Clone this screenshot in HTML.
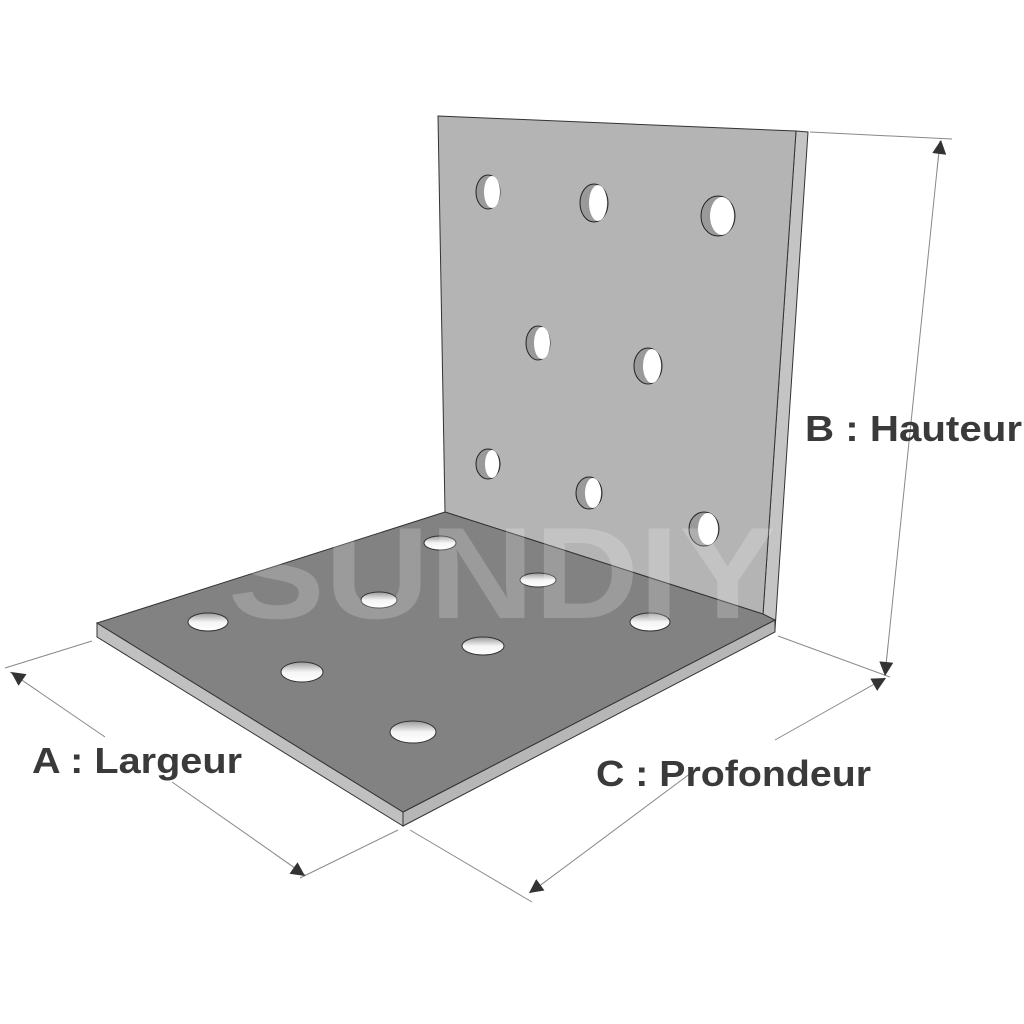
<!DOCTYPE html>
<html><head><meta charset="utf-8"><style>html,body{margin:0;padding:0;background:#fff}svg{display:block}</style></head>
<body>
<svg width="1024" height="1024" viewBox="0 0 1024 1024" xmlns="http://www.w3.org/2000/svg">
<defs>
<linearGradient id="hh" x1="0" y1="0" x2="0" y2="1"><stop offset="0" stop-color="#9a9a9a"/><stop offset="0.5" stop-color="#f4f4f4"/><stop offset="1" stop-color="#fff"/></linearGradient>
<marker id="ar" viewBox="0 0 10 10" refX="10" refY="5" markerWidth="26" markerHeight="14" markerUnits="userSpaceOnUse" orient="auto"><path d="M0,0 L10,5 L0,10 z" fill="#333"/></marker>
</defs>
<g stroke="#888" stroke-width="1" fill="none">
<line x1="810" y1="132" x2="952" y2="139"/>
<line x1="778" y1="636" x2="890" y2="677"/>
<line x1="92" y1="641" x2="5" y2="668"/>
<line x1="398" y1="830" x2="300" y2="878"/>
<line x1="410" y1="830" x2="532" y2="902"/>
<line x1="10" y1="672" x2="105" y2="737"/>
<line x1="172" y1="782" x2="305" y2="875"/>
<line x1="530" y1="893" x2="695" y2="770"/>
<line x1="775" y1="740" x2="885" y2="678"/>
<line x1="940" y1="141" x2="885" y2="675"/>
</g>
<g stroke="#333" stroke-width="0.1" fill="none">
<line x1="40" y1="692" x2="11" y2="672" marker-end="url(#ar)"/>
<line x1="275" y1="855" x2="305" y2="876" marker-end="url(#ar)"/>
<line x1="558" y1="872" x2="529" y2="893" marker-end="url(#ar)"/>
<line x1="857" y1="694" x2="886" y2="678" marker-end="url(#ar)"/>
<line x1="937" y1="172" x2="941" y2="140" marker-end="url(#ar)"/>
<line x1="888" y1="644" x2="885" y2="676" marker-end="url(#ar)"/>
</g>
<polygon points="796,131 808,132 775,630 763,614" fill="#c4c4c4" stroke="#333" stroke-width="1"/>
<polygon points="438,116 796,131 763,614 445,512" fill="#b4b4b4" stroke="#333" stroke-width="1"/>
<g stroke="#222" stroke-width="1">
<g transform="translate(488,192)"><ellipse rx="12" ry="17" fill="#9a9a9a"/><ellipse cx="4" rx="8" ry="16" fill="#fff" stroke="none"/></g>
<g transform="translate(594,203)"><ellipse rx="14" ry="19" fill="#9a9a9a"/><ellipse cx="4" rx="9" ry="18" fill="#fff" stroke="none"/></g>
<g transform="translate(718,216)"><ellipse rx="17" ry="20" fill="#9a9a9a"/><ellipse cx="4" rx="12" ry="19" fill="#fff" stroke="none"/></g>
<g transform="translate(538,343)"><ellipse rx="12" ry="17" fill="#9a9a9a"/><ellipse cx="4" rx="8" ry="16" fill="#fff" stroke="none"/></g>
<g transform="translate(648,366)"><ellipse rx="14" ry="18" fill="#9a9a9a"/><ellipse cx="4" rx="9" ry="17" fill="#fff" stroke="none"/></g>
<g transform="translate(488,464)"><ellipse rx="12" ry="15" fill="#9a9a9a"/><ellipse cx="4" rx="7" ry="14" fill="#fff" stroke="none"/></g>
<g transform="translate(589,493)"><ellipse rx="13" ry="16" fill="#9a9a9a"/><ellipse cx="4" rx="8" ry="15" fill="#fff" stroke="none"/></g>
<g transform="translate(704,529)"><ellipse rx="15" ry="17" fill="#9a9a9a"/><ellipse cx="4" rx="10" ry="16" fill="#fff" stroke="none"/></g>
</g>
<polygon points="97,623 403,812 403,826 97,637" fill="#c0c0c0" stroke="#333" stroke-width="1"/>
<polygon points="403,812 775,620 775,632 403,826" fill="#b6b6b6" stroke="#333" stroke-width="1"/>
<polygon points="445,512 97,623 403,812 775,620 763,614" fill="#828282" stroke="#333" stroke-width="1"/>
<g stroke="#333" stroke-width="1">
<ellipse cx="208" cy="622" rx="20" ry="9" fill="url(#hh)"/>
<ellipse cx="302" cy="672" rx="21" ry="10" fill="url(#hh)"/>
<ellipse cx="413" cy="732" rx="23" ry="11" fill="url(#hh)"/>
<ellipse cx="440" cy="543" rx="16" ry="7" fill="url(#hh)"/>
<ellipse cx="379" cy="600" rx="18" ry="8" fill="url(#hh)"/>
<ellipse cx="538" cy="580" rx="18" ry="7" fill="url(#hh)"/>
<ellipse cx="483" cy="646" rx="21" ry="9" fill="url(#hh)"/>
<ellipse cx="650" cy="622" rx="20" ry="9" fill="url(#hh)"/>
</g>
<text x="228" y="618" font-family="Liberation Sans, sans-serif" font-weight="bold" font-size="130" fill="#fff" fill-opacity="0.2" textLength="548" lengthAdjust="spacingAndGlyphs">SUNDIY</text>
<g font-family="Liberation Sans, sans-serif" font-weight="bold" font-size="36" fill="#3a3a3a">
<text x="805" y="441" textLength="217" lengthAdjust="spacingAndGlyphs">B : Hauteur</text>
<text x="32" y="773" textLength="210" lengthAdjust="spacingAndGlyphs">A : Largeur</text>
<text x="596" y="786" textLength="275" lengthAdjust="spacingAndGlyphs">C : Profondeur</text>
</g>
</svg>
</body></html>
